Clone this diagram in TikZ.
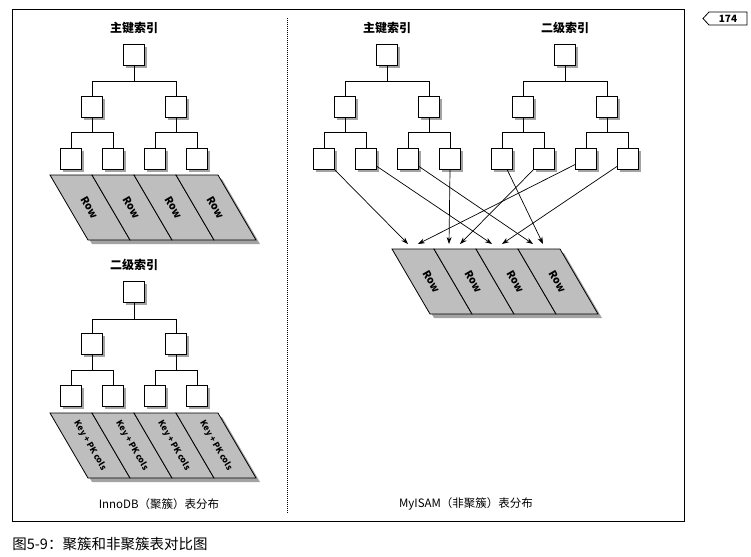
\documentclass[tikz,border=0pt]{standalone}
\usepackage{fontspec}
\usepackage{tikz}
\usetikzlibrary{arrows.meta, shadows}
\newfontfamily\cjk{Noto Sans CJK SC}
\definecolor{row_gray}{RGB}{190, 190, 190}
\definecolor{shade_gray}{RGB}{140, 140, 140}

\begin{document}
\begin{tikzpicture}[
        x=1pt, y=-1pt,
        font=\cjk,
        line width=0.8pt,
        idx/.style={draw, fill=white, minimum size=21pt, inner sep=0pt,
            drop shadow={shadow xshift=2.5pt, shadow yshift=-2.5pt, fill=shade_gray, opacity=0.8}},
        ttl/.style={font=\cjk\fontsize{12}{14}\selectfont\bfseries},
        layoutlbl/.style={font=\cjk\fontsize{11.5}{14}\selectfont},
        ptr/.style={-{Stealth[length=7pt, width=5pt]}, line width=0.7pt}
    ]
        \useasboundingbox (0,0) rectangle (751,556);

        % -------- Cornice --------
        \draw[line width=0.9pt] (12,9) rectangle (684,521);
        \draw[densely dotted, line width=1pt] (287,18) -- (287,514);

        % Etichetta pagina
        \draw[line width=0.8pt] (747,12) -- (709,12) -- (703,18.5) -- (709,25) -- (747,25) -- cycle;
        \node[font=\cjk\fontsize{10}{10}\selectfont\bfseries] (pg) at (728,18.5) {174};

        % -------- Titoli --------
        \node[ttl] (pa-ttl) at (134,28) {主键索引};
        \node[ttl] (sa-ttl) at (134,265) {二级索引};
        \node[ttl] (pb-ttl) at (387,28) {主键索引};
        \node[ttl] (sb-ttl) at (565,28) {二级索引};

        % -------- Righe (parallelogrammi) --------
        % larghezza cella 42, altezza 65, inclinazione 38
        \foreach \x/\y/\lab in {50/175/{\fontsize{10.5}{11}\selectfont\bfseries Row},
                                50/413/{\fontsize{8.5}{9}\selectfont\bfseries Key + PK cols},
                                392/249/{\fontsize{10.5}{11}\selectfont\bfseries Row}}{
            \fill[shade_gray, opacity=0.8] (\x+4,\y+4) -- (\x+172,\y+4) -- (\x+210,\y+69) -- (\x+42,\y+69) -- cycle;
            \foreach \i in {0,...,3}{
                \filldraw[fill=row_gray] (\x+42*\i,\y) -- (\x+42*\i+42,\y) -- (\x+42*\i+80,\y+65) -- (\x+42*\i+38,\y+65) -- cycle;
                \node[rotate=-60, inner sep=0pt] at (\x+42*\i+40,\y+32.5) {\lab};
            }
        }

        % -------- Alberi --------
        \foreach \t/\x/\y in {pa/134/55, sa/134/292, pb/387/55, sb/565/55}{
            \node[idx] (\t-r) at (\x,\y) {};
            \node[idx] (\t-a) at (\x-42,\y+52) {};
            \node[idx] (\t-b) at (\x+42,\y+52) {};
            \node[idx] (\t-1) at (\x-63,\y+104) {};
            \node[idx] (\t-2) at (\x-21,\y+104) {};
            \node[idx] (\t-3) at (\x+21,\y+104) {};
            \node[idx] (\t-4) at (\x+63,\y+104) {};
            \draw (\t-r.south) -- ++(0,16) -| (\t-a.north);
            \draw (\t-r.south) -- ++(0,16) -| (\t-b.north);
            \draw (\t-a.south) -- ++(0,15) -| (\t-1.north);
            \draw (\t-a.south) -- ++(0,15) -| (\t-2.north);
            \draw (\t-b.south) -- ++(0,15) -| (\t-3.north);
            \draw (\t-b.south) -- ++(0,15) -| (\t-4.north);
        }

        % -------- Puntatori MyISAM --------
        \foreach \c/\x in {t1/408, t2/418, t3/449, t4/460, t5/492, t6/502, t7/533, t8/543}{
            \coordinate (\c) at (\x,244);
        }
        \draw[ptr] (pb-1) -- (t1);
        \draw[ptr] (pb-2) -- (t5);
        \draw[ptr] (pb-3) -- (t7);
        \draw[ptr] (pb-4.south) -- (t3);
        \draw[ptr] (sb-1) -- (t8);
        \draw[ptr] (sb-2) -- (t4);
        \draw[ptr] (sb-3) -- (t2);
        \draw[ptr] (sb-4) -- (t6);

        % -------- Didascalie --------
        \node[layoutlbl] (inno) at (159,504) {InnoDB（聚簇）表分布};
        \node[layoutlbl] (myisam) at (466,504) {MyISAM（非聚簇）表分布};
        \node[font=\cjk\fontsize{14.5}{16}\selectfont, anchor=west, inner sep=0pt] (fig) at (12,544) {图5-9：聚簇和非聚簇表对比图};

    \end{tikzpicture}
\end{document}
